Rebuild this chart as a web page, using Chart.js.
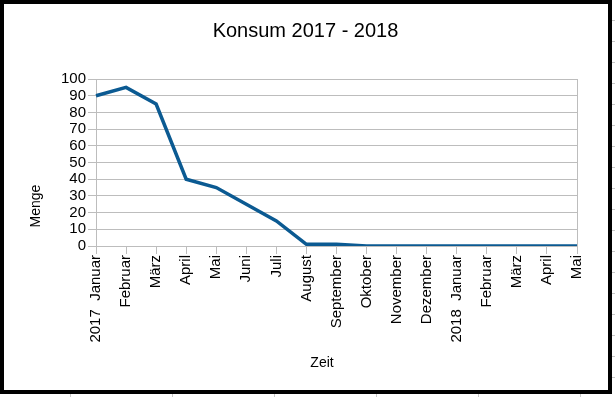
<!DOCTYPE html>
<html>
<head>
<meta charset="utf-8">
<script src="https://cdn.jsdelivr.net/npm/chart.js@4.4.1/dist/chart.umd.min.js"></script>
<style>
  html, body { margin: 0; padding: 0; }
  body {
    width: 615px; height: 397px; position: relative; overflow: hidden;
    background:
      repeating-linear-gradient(to bottom, transparent 0, transparent 20px, #c8c8c8 20px, #c8c8c8 21px) right top / 3px 100% no-repeat,
      #fff;
  }
  #wrap { position: absolute; left: 0; top: 0; width: 615px; height: 397px; }
  #frame {
    position: absolute; left: 0; top: 0; width: 612px; height: 394px;
    border: 4px solid #000; box-sizing: border-box; background: #fff;
  }
  .vl { position: absolute; bottom: 0; width: 1px; height: 3px; background: #c8c8c8; }
</style>
</head>
<body>
<div id="frame"></div>
<div class="vl" style="left:70px"></div>
<div class="vl" style="left:172px"></div>
<div class="vl" style="left:274px"></div>
<div class="vl" style="left:376px"></div>
<div class="vl" style="left:478px"></div>
<div class="vl" style="left:580px"></div>
<div id="wrap"><canvas id="konsumChart" width="615" height="397"></canvas></div>
<script>
// Werte
const monate = ['2017  Januar', 'Februar', 'März', 'April', 'Mai', 'Juni', 'Juli', 'August',
    'September', 'Oktober', 'November', 'Dezember', '2018  Januar', 'Februar', 'März', 'April', 'Mai'];
const konsum = [90, 95, 85, 40, 35, 25, 15, 1, 1, 0, 0, 0, 0, 0, 0, 0, 0];
const yMin = 0;
const yMax = 100;
const yStep = 10;

const schrift = "'Liberation Sans', Arial, sans-serif";
const grau = '#bdbdbd';

// Achsentitel und rechter Rahmen der Zeichenfläche
const achsenTitel = {
    id: 'achsenTitel',
    afterDraw(chart) {
        const c = chart.ctx;
        const a = chart.chartArea;
        c.save();
        c.strokeStyle = grau;
        c.lineWidth = 1;
        c.beginPath();
        c.moveTo(Math.round(a.right) + 0.5, a.top);
        c.lineTo(Math.round(a.right) + 0.5, a.bottom);
        c.stroke();
        c.fillStyle = '#000';
        c.font = '14px ' + schrift;
        c.textAlign = 'center';
        c.textBaseline = 'middle';
        c.fillText('Zeit', 322, 363);
        c.translate(36, 206);
        c.rotate(-Math.PI / 2);
        c.fillText('Menge', 0, 0);
        c.restore();
    }
};

new Chart(document.getElementById('konsumChart').getContext('2d'), {
    type: 'line',
    data: {
        labels: monate,
        datasets: [{
            label: 'Konsum',
            data: konsum,
            borderColor: '#0b5a92',
            backgroundColor: '#0b5a92',
            borderWidth: 3.5,
            pointRadius: 0,
            tension: 0
        }]
    },
    options: {
        responsive: false,
        animation: false,
        layout: { padding: { top: 0, left: 34, right: 38, bottom: 51 } },
        plugins: {
            legend: { display: false },
            tooltip: { enabled: false },
            title: {
                display: true,
                text: 'Konsum 2017 - 2018',
                color: '#000',
                font: { family: schrift, size: 20, weight: 'normal' },
                padding: { top: 19, bottom: 36 }
            }
        },
        scales: {
            x: {
                offset: false,
                border: { color: grau },
                grid: { drawOnChartArea: false, color: grau, tickLength: 8 },
                ticks: {
                    color: '#000',
                    font: { family: schrift, size: 15 },
                    minRotation: 90,
                    maxRotation: 90,
                    autoSkip: false,
                    padding: 1
                },
                afterFit(scale) { scale.height = 100; }
            },
            y: {
                min: yMin,
                max: yMax,
                border: { color: grau },
                grid: { color: grau, tickLength: 8 },
                ticks: {
                    stepSize: yStep,
                    autoSkip: false,
                    color: '#000',
                    font: { family: schrift, size: 15 },
                    padding: 2
                },
                afterFit(scale) { scale.width = 62; }
            }
        }
    },
    plugins: [achsenTitel]
});
</script>
</body>
</html>
